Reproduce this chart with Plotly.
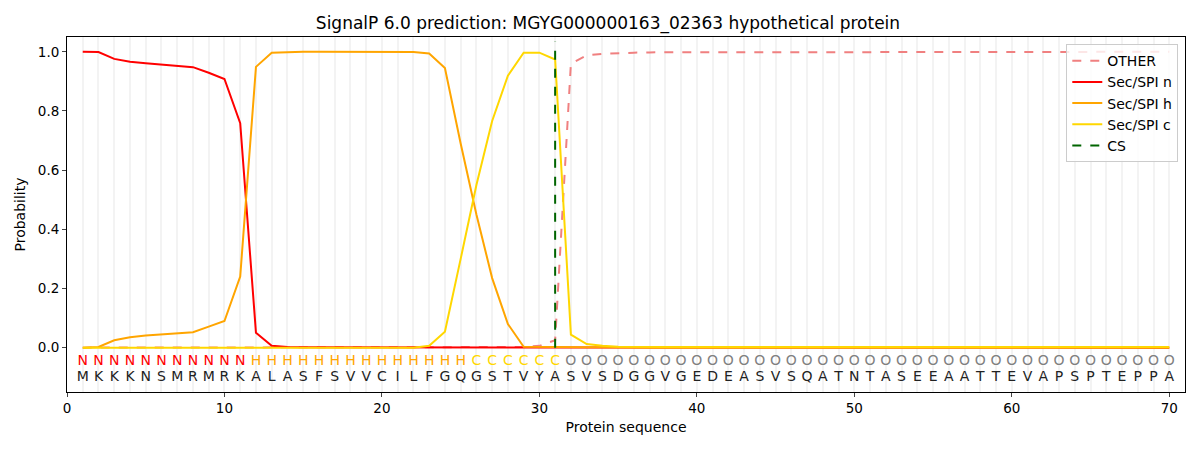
import plotly.graph_objects as go

# protein sequence and per-residue labels
sequence = list("MKKKNSMRMRKALASFSVVCILFGQGSTVYASVSDGGVGEDEASVSQATNTASEEAATTEVAPSPTEPPA")
region_labels = list("N" * 11 + "H" * 14 + "C" * 6 + "O" * 39)
positions = list(range(1, len(sequence) + 1))

# probabilities
other = [0.0] * 28 + [0.002, 0.006, 0.025, 0.96, 0.988, 0.993, 0.996, 0.997,
                      0.998, 0.998, 0.999] + [0.999] * 4 + [1.0] * 27
sec_n = [1.0, 0.999, 0.976, 0.966, 0.961, 0.957, 0.953, 0.948, 0.929, 0.908,
         0.759, 0.05, 0.006, 0.002, 0.001] + [0.001] * 7 + [0.002] * 7 \
        + [0.001, 0.001] + [0.0] * 39
sec_h = [0.0, 0.002, 0.025, 0.035, 0.041, 0.045, 0.048, 0.052, 0.071, 0.09,
         0.24, 0.949, 0.997, 0.999, 1.0, 1.0, 1.0, 1.0, 1.0, 1.0, 1.0, 0.999,
         0.994, 0.945, 0.69, 0.45, 0.235, 0.08, 0.003, 0.002, 0.002,
         0.002, 0.001, 0.001] + [0.0] * 36
sec_c = [0.0] * 22 + [0.006, 0.054, 0.30, 0.55, 0.766, 0.919, 0.997, 0.997,
                      0.974, 0.044, 0.012, 0.006, 0.003] + [0.002] * 35
cs_pos = 31
cs_span = [0.0, 1.035]

label_colors = {"N": "red", "H": "orange", "C": "gold", "O": "grey"}

fig = go.Figure()

fig.add_trace(go.Scatter(x=positions, y=other, mode='lines', name='OTHER',
                         line=dict(color='lightcoral', width=2, dash='dash')))
fig.add_trace(go.Scatter(x=positions, y=sec_n, mode='lines', name='Sec/SPI n',
                         line=dict(color='red', width=2)))
fig.add_trace(go.Scatter(x=positions, y=sec_h, mode='lines', name='Sec/SPI h',
                         line=dict(color='orange', width=2)))
fig.add_trace(go.Scatter(x=positions, y=sec_c, mode='lines', name='Sec/SPI c',
                         line=dict(color='gold', width=2)))
fig.add_trace(go.Scatter(x=[cs_pos, cs_pos], y=cs_span, mode='lines', name='CS',
                         line=dict(color='darkgreen', width=2, dash='dash')))

# residue letters under the curves
fig.add_trace(go.Scatter(x=positions, y=[-0.047] * len(positions), mode='text',
                         text=region_labels, showlegend=False, hoverinfo='skip',
                         textfont=dict(size=14, family='DejaVu Sans',
                                       color=[label_colors[c] for c in region_labels])))
fig.add_trace(go.Scatter(x=positions, y=[-0.1] * len(positions), mode='text',
                         text=sequence, showlegend=False, hoverinfo='skip',
                         textfont=dict(size=14, family='DejaVu Sans', color='#222')))

# the page body adds an 8px offset, so margins are trimmed to compensate
fig.update_layout(
    width=1200, height=450,
    margin=dict(l=59, r=23, t=29, b=66),
    plot_bgcolor='white', paper_bgcolor='white',
    font=dict(family='DejaVu Sans', size=14, color='black'),
    title=dict(text='SignalP 6.0 prediction: MGYG000000163_02363 hypothetical protein',
               x=0.5, xanchor='center', y=0.967, yanchor='middle',
               font=dict(size=17), automargin=False),
    legend=dict(x=0.994, y=0.98, xanchor='right', yanchor='top',
                bordercolor='#cccccc', borderwidth=1, bgcolor='rgba(255,255,255,0.8)',
                font=dict(size=14), tracegroupgap=0),
)
fig.update_xaxes(range=[0, 71], tickmode='array', tickvals=list(range(0, 71, 10)),
                 showgrid=False, zeroline=False, showline=True, linecolor='black',
                 linewidth=1, mirror=True, ticks='outside', ticklen=4,
                 tickfont=dict(size=13.5), automargin=False,
                 title=dict(text='Protein sequence', standoff=6, font=dict(size=14)),
                 minor=dict(tickmode='array', tickvals=positions, showgrid=True,
                            gridcolor='#f3f3f3', gridwidth=1.5, ticks=''))
fig.update_yaxes(range=[-0.15, 1.05], tickvals=[0, 0.2, 0.4, 0.6, 0.8, 1.0],
                 tickformat='.1f', showgrid=False, zeroline=False, showline=True,
                 linecolor='black', linewidth=1, mirror=True, ticks='outside',
                 ticklen=4, tickfont=dict(size=13.5), automargin=False,
                 title=dict(text='Probability', standoff=8, font=dict(size=14)))

fig.write_html("out.html")
